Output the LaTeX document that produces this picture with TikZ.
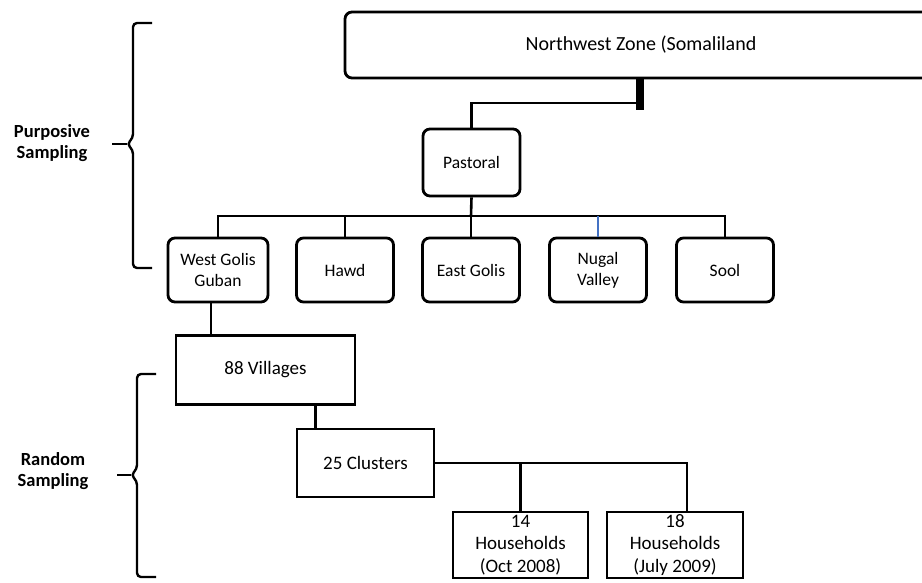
\documentclass[tikz,border=0pt]{standalone}
\usepackage{fontspec}
\setmainfont{Carlito}
\usetikzlibrary{positioning}
\definecolor{linkblue}{RGB}{68,114,196}

\begin{document}
\begin{tikzpicture}[
	         x                = 1pt,
	         y                = -1pt,
	         rbox/.style      = {draw, line width=2.8pt, rounded corners=7pt, inner sep=0pt,
	                             align=center, font=\fontsize{17.5}{21}\selectfont},
	         sbox/.style      = {draw, line width=2.8pt, inner sep=0pt, align=center,
	                             font=\fontsize{19}{22.5}\selectfont},
	         link/.style      = {line width=2.6pt},
	         brace/.style     = {line width=2.4pt, rounded corners=4pt},
	         side/.style      = {align=center, font=\bfseries\fontsize{18.5}{21.5}\selectfont}]
	  \useasboundingbox (0,0) rectangle (922,582);
	  \clip (0,0) rectangle (922,582);
	  % top of the tree
	  \node [rbox, minimum width=592pt, minimum height=66pt, font=\fontsize{20}{24}\selectfont]
	        (zone) at (641,45) {Northwest Zone (Somaliland};
	  \node [rbox, minimum width=97pt, minimum height=67pt] (past) at (471.5,162.5) {Pastoral};
	  \node [rbox, minimum width=100pt, minimum height=64pt] (wgg) at (218,270) {West Golis\\Guban};
	  \node [rbox, minimum width=97pt, minimum height=64pt] (hawd) at (345,270) {Hawd};
	  \node [rbox, minimum width=97pt, minimum height=64pt] (egol) at (471,270) {East Golis};
	  \node [rbox, minimum width=97pt, minimum height=64pt] (nugal) at (598,270) {Nugal\\Valley};
	  \node [rbox, minimum width=97pt, minimum height=64pt] (sool) at (725,270) {Sool};
	  % random part
	  \node [sbox, minimum width=179pt, minimum height=69pt] (vill) at (265.5,370) {88 Villages};
	  \node [sbox, minimum width=137pt, minimum height=68pt] (clus) at (365.5,463) {25 Clusters};
	  \node [sbox, minimum width=135pt, minimum height=66pt] (hh14) at (520.5,545) {14\\Households\\(Oct 2008)};
	  \node [sbox, minimum width=136pt, minimum height=66pt] (hh18) at (675,545) {18\\Households\\(July 2009)};
	  \coordinate (bar) at (640,110);
	  \coordinate (elbow) at (640,103);
	  \coordinate (bus) at (471,216);
	  \draw [line width=8pt] (zone.south -| bar) -- (bar);
	  \draw [link] (past.north) |- (elbow);
	  \draw [link] (past.south) -- (bus);
	  \draw [link] (wgg.north) |- (bus) -| (sool.north);
	  \draw [link] (hawd.north) -- (hawd.north |- bus);
	  \draw [link] (egol.north) -- (egol.north |- bus);
	  \draw [link, linkblue, line width=1.8pt] (nugal.north) -- (nugal.north |- bus);
	  \draw [link] ([xshift=-7pt]wgg.south) -- ([xshift=-7pt]wgg.south |- vill.north);
	  \draw [link] ([xshift=20pt]clus.north west) -- ([xshift=20pt]clus.north west |- vill.south);
	  \draw [link] (clus.east) -| ([xshift=12pt]hh18.north);
	  \draw [link] (hh14.north) -- (hh14.north |- clus.east);
	  % braces
	  \draw [brace] (152,23) -- (133,23) -- (133,138) -- (127,144) -- (133,150) -- (133,268) -- (152,268);
	  \draw [link] (127,144) -- (112,144);
	  \draw [brace] (156,374) -- (137,374) -- (137,469) -- (131,475) -- (137,481) -- (137,577) -- (156,577);
	  \draw [link] (131,475) -- (117,475);
	  \node [side] (purp) at (52,143) {Purposive\\Sampling};
	  \node [side] (rand) at (53,471) {Random\\Sampling};
	\end{tikzpicture}
\end{document}
